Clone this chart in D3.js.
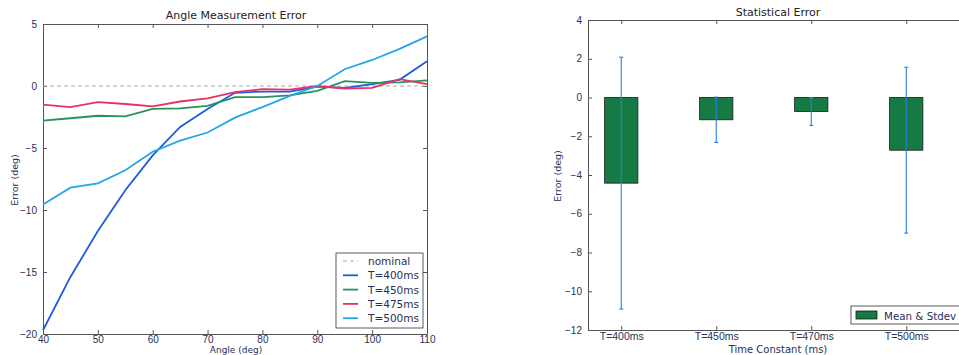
<!DOCTYPE html>
<html>
<head>
<meta charset="utf-8">
<script src="https://cdn.jsdelivr.net/npm/d3@7"></script>
<style>
  body { margin: 0; background: #fff; }
  svg { font-family: "DejaVu Sans", sans-serif; }
  .axis text { fill: #2a2f55; font-size: 10px; }
  .axis path, .axis line { stroke: #555; }
</style>
</head>
<body>
<svg id="svg"></svg>
<script>
// ---- left chart data
const angles = [40, 45, 50, 55, 60, 65, 70, 75, 80, 85, 90, 95, 100, 105, 110];
const err400 = [-19.7, -15.4, -11.7, -8.4, -5.6, -3.3, -1.85, -0.55, -0.45, -0.45, -0.05, -0.15, 0.15, 0.5, 2.0];
const err450 = [-2.8, -2.6, -2.4, -2.45, -1.85, -1.8, -1.6, -0.9, -0.9, -0.75, -0.4, 0.4, 0.25, 0.3, 0.45];
const err475 = [-1.5, -1.7, -1.3, -1.45, -1.65, -1.25, -1.0, -0.5, -0.25, -0.3, 0.0, -0.2, -0.15, 0.55, 0.15];
const err500 = [-9.55, -8.2, -7.85, -6.8, -5.3, -4.4, -3.75, -2.55, -1.7, -0.8, 0.0, 1.35, 2.1, 3.0, 4.0];
const seriesNames = ["T=400ms", "T=450ms", "T=475ms", "T=500ms"];
const seriesColors = ["#1f5be0", "#23955a", "#ea2f66", "#24a6e6"];
const leftYTicks = [5, 0, -5, -10, -15, -20];
const leftXTicks = [40, 50, 60, 70, 80, 90, 100, 110];

// ---- right chart data
const constants = ["T=400ms", "T=450ms", "T=470ms", "T=500ms"];
const means = [-4.42, -1.15, -0.72, -2.72];
const stdevs = [6.5, 1.17, 0.72, 4.28];
const rightYTicks = [4, 2, 0, -2, -4, -6, -8, -10, -12];

const width = 959, height = 355;
const svg = d3.select("#svg").attr("width", width).attr("height", height);

function fmt(d) { return d < 0 ? "\u2212" + Math.abs(d) : String(d); }

// =============== left chart
const L = {left: 43, right: 427, top: 24, bottom: 334};
const xL = d3.scaleLinear().domain([40, 110]).range([L.left, L.right]);
const yL = d3.scaleLinear().domain([-20, 5]).range([L.bottom, L.top]);

const gL = svg.append("g");

gL.append("g").attr("class", "axis")
  .attr("transform", "translate(0," + L.bottom + ")")
  .call(d3.axisBottom(xL).tickValues(leftXTicks).tickFormat(fmt).tickSizeInner(-4).tickSizeOuter(0).tickPadding(2));
gL.append("g").attr("class", "axis")
  .attr("transform", "translate(0," + L.top + ")")
  .call(d3.axisTop(xL).tickValues(leftXTicks).tickFormat("").tickSizeInner(-4).tickSizeOuter(0));
gL.append("g").attr("class", "axis")
  .attr("transform", "translate(" + L.left + ",0)")
  .call(d3.axisLeft(yL).tickValues(leftYTicks).tickFormat(fmt).tickSizeInner(-4).tickSizeOuter(0).tickPadding(6));
gL.append("g").attr("class", "axis")
  .attr("transform", "translate(" + L.right + ",0)")
  .call(d3.axisRight(yL).tickValues(leftYTicks).tickFormat("").tickSizeInner(-4).tickSizeOuter(0));

// nominal
gL.append("line")
  .attr("x1", xL(40)).attr("x2", xL(110))
  .attr("y1", yL(0)).attr("y2", yL(0))
  .attr("stroke", "#aaa").attr("stroke-width", 1).attr("stroke-dasharray", "4,3");

const allSeries = [err400, err450, err475, err500];
const line = d3.line().x((d, i) => xL(angles[i])).y(d => yL(d));
gL.append("g").selectAll("path")
  .data(allSeries)
  .enter()
  .append("path")
  .attr("d", line)
  .attr("fill", "none")
  .attr("stroke", (d, i) => seriesColors[i])
  .attr("stroke-width", 1.8);

gL.append("text").attr("x", 236).attr("y", 19).attr("text-anchor", "middle")
  .attr("font-size", 11).attr("fill", "#222").text("Angle Measurement Error");
gL.append("text").attr("transform", "translate(18,180) rotate(-90)").attr("text-anchor", "middle")
  .attr("font-size", 9.5).attr("fill", "#2a2f55").text("Error (deg)");
gL.append("text").attr("x", 236).attr("y", 352.5).attr("text-anchor", "middle")
  .attr("font-size", 9).attr("fill", "#2a2f55").text("Angle (deg)");

// legend
const legL = gL.append("g").attr("transform", "translate(336,253)");
legL.append("rect").attr("width", 87).attr("height", 75)
  .attr("fill", "#fff").attr("stroke", "#333").attr("stroke-width", 0.8);
const legItems = ["nominal"].concat(seriesNames);
const legColors = ["#aaa"].concat(seriesColors);
legItems.forEach(function(name, i) {
  const yy = 8 + i * 14.3;
  legL.append("line").attr("x1", 7).attr("x2", 22).attr("y1", yy).attr("y2", yy)
    .attr("stroke", legColors[i]).attr("stroke-width", i === 0 ? 1 : 1.8)
    .attr("stroke-dasharray", i === 0 ? "4,3" : null);
  legL.append("text").attr("x", 32).attr("y", yy + 4)
    .attr("font-size", 10.5).attr("fill", "#2a2f55").text(name);
});

// =============== right chart
const R = {left: 588, top: 20, bottom: 330};
const xR = d3.scaleLinear().domain([-0.35, 3.8]).range([R.left, R.left + 4.15 * 95]);
const yR = d3.scaleLinear().domain([-12, 4]).range([R.bottom, R.top]);
const R_right = xR(3.8);
const barW = xR(0.35) - xR(0);

const gR = svg.append("g");

gR.selectAll("rect.bar")
  .data(means)
  .enter()
  .append("rect")
  .attr("class", "bar")
  .attr("x", (d, i) => xR(i) - barW / 2)
  .attr("y", d => yR(Math.max(0, d)))
  .attr("width", barW)
  .attr("height", d => Math.abs(yR(d) - yR(0)))
  .attr("fill", "#167a45")
  .attr("stroke", "#1a1a1a")
  .attr("stroke-width", 0.8);

const eb = gR.append("g").selectAll("g")
  .data(means)
  .enter()
  .append("g");
eb.append("line")
  .attr("x1", (d, i) => xR(i)).attr("x2", (d, i) => xR(i))
  .attr("y1", (d, i) => yR(d + stdevs[i])).attr("y2", (d, i) => yR(d - stdevs[i]))
  .attr("stroke", "#2a7fe0").attr("stroke-width", 1.1);
[1, -1].forEach(function(s) {
  eb.append("line")
    .attr("x1", (d, i) => xR(i) - 2).attr("x2", (d, i) => xR(i) + 2)
    .attr("y1", (d, i) => yR(d + s * stdevs[i])).attr("y2", (d, i) => yR(d + s * stdevs[i]))
    .attr("stroke", "#2a7fe0").attr("stroke-width", 1.1);
});

gR.append("g").attr("class", "axis x-cat")
  .attr("transform", "translate(0," + R.bottom + ")")
  .call(d3.axisBottom(xR).tickValues([0, 1, 2, 3]).tickFormat(i => constants[i]).tickSizeInner(-4).tickSizeOuter(0).tickPadding(3));
gR.select(".x-cat").selectAll("text").style("font-size", "10.5px");
gR.append("g").attr("class", "axis")
  .attr("transform", "translate(0," + R.top + ")")
  .call(d3.axisTop(xR).tickValues([0, 1, 2, 3]).tickFormat("").tickSizeInner(-4).tickSizeOuter(0));
gR.append("g").attr("class", "axis")
  .attr("transform", "translate(" + R.left + ",0)")
  .call(d3.axisLeft(yR).tickValues(rightYTicks).tickFormat(fmt).tickSizeInner(-4).tickSizeOuter(0).tickPadding(6));
gR.append("g").attr("class", "axis")
  .attr("transform", "translate(" + R_right + ",0)")
  .call(d3.axisRight(yR).tickValues(rightYTicks).tickFormat("").tickSizeInner(-4).tickSizeOuter(0));

gR.append("text").attr("x", 778).attr("y", 16).attr("text-anchor", "middle")
  .attr("font-size", 11).attr("fill", "#222").text("Statistical Error");
gR.append("text").attr("transform", "translate(561,176) rotate(-90)").attr("text-anchor", "middle")
  .attr("font-size", 9.5).attr("fill", "#2a2f55").text("Error (deg)");
gR.append("text").attr("x", 778).attr("y", 353).attr("text-anchor", "middle")
  .attr("font-size", 10).attr("fill", "#2a2f55").text("Time Constant (ms)");

const legR = gR.append("g").attr("transform", "translate(851,306)");
legR.append("rect").attr("width", 125).attr("height", 18)
  .attr("fill", "#fff").attr("stroke", "#333").attr("stroke-width", 0.8);
legR.append("rect").attr("x", 5).attr("y", 5).attr("width", 21).attr("height", 8)
  .attr("fill", "#167a45").attr("stroke", "#1a1a1a").attr("stroke-width", 0.8);
legR.append("text").attr("x", 33).attr("y", 13.5)
  .attr("font-size", 10.3).attr("fill", "#2a2f55").text("Mean & Stdev");
</script>
</body>
</html>
